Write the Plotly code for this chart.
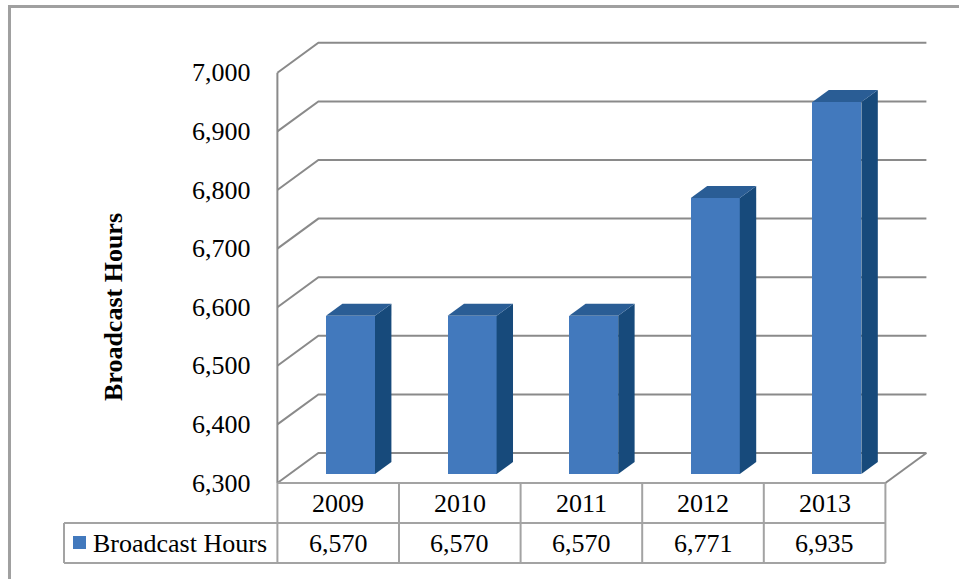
import plotly.graph_objects as go

# ---------------- data ----------------
years = ["2009", "2010", "2011", "2012", "2013"]
hours = [6570, 6570, 6570, 6771, 6935]
series_name = "Broadcast Hours"
tick_values = [6300, 6400, 6500, 6600, 6700, 6800, 6900, 7000]
axis_title = "Broadcast Hours"

# ---------------- layout constants (pixels) ----------------
W, H = 959, 579
X0_PX = 350.5          # centre of first category on the bar front plane
CAT_PX = 121.6         # pixels per category
Y0_PX = 474.0          # pixel row of the axis minimum on the bar front plane
PX_PER_UNIT = 0.586    # pixels per value unit
YMIN, YMAX = tick_values[0], tick_values[-1]
BAR_W = 0.403          # bar width in category units
DEPTH_X = 41 / CAT_PX  # full depth shift, category units
DEPTH_V = 30 / PX_PER_UNIT  # full depth shift, value units
BAR_D0, BAR_D1 = 0.3, 0.7

FRONT = "#4279BD"
SIDE = "#174A7B"
TOP = "#2A5D95"
GRID = "#8a8a8a"
TABLE_LINE = "#a3a3a3"
FONT = "Liberation Serif, Times New Roman, serif"

xr = [(0 - X0_PX) / CAT_PX, (W - X0_PX) / CAT_PX]
yr = [YMIN - (H - Y0_PX) / PX_PER_UNIT, YMIN + Y0_PX / PX_PER_UNIT]


def proj(x, v, d):
    """project (category x, value v, depth d) into the 2D data coordinates"""
    return x + (d - BAR_D0) * DEPTH_X, v + (d - BAR_D0) * DEPTH_V


def path(points, close=False):
    s = "M " + " L ".join(f"{x:.4f},{y:.4f}" for x, y in points)
    return s + (" Z" if close else "")


def px2paper_x(px):
    return px / W


def px2paper_y(py):
    return 1 - py / H


n = len(years)
XL, XR = -0.5, n - 0.5

fig = go.Figure()
fig.add_trace(go.Bar(
    x=list(range(n)), y=[v - YMIN for v in hours], base=[YMIN] * n,
    width=BAR_W, marker=dict(color=FRONT, line=dict(width=0)),
    name=series_name, showlegend=False, hoverinfo="skip"))

shapes = []
# back wall + side wall gridlines
for v in tick_values:
    shapes.append(dict(type="path", xref="x", yref="y", layer="below",
                       path=path([proj(XL, v, 0), proj(XL, v, 1), proj(XR, v, 1)]),
                       line=dict(color=GRID, width=2)))
# left vertical wall edge
shapes.append(dict(type="path", xref="x", yref="y", layer="below",
                   path=path([proj(XL, YMIN, 0), proj(XL, YMAX, 0)]),
                   line=dict(color=GRID, width=2)))
# floor right edge
shapes.append(dict(type="path", xref="x", yref="y", layer="below",
                   path=path([proj(XR, YMIN, 0), proj(XR, YMIN, 1)]),
                   line=dict(color=GRID, width=2)))

# bar side and top faces
for i, v in enumerate(hours):
    xl, xrr = i - BAR_W / 2, i + BAR_W / 2
    shapes.append(dict(type="path", xref="x", yref="y", layer="above",
                       path=path([proj(xrr, YMIN, BAR_D0), proj(xrr, YMIN, BAR_D1),
                                  proj(xrr, v, BAR_D1), proj(xrr, v, BAR_D0)], True),
                       fillcolor=SIDE, line=dict(width=0)))
    shapes.append(dict(type="path", xref="x", yref="y", layer="above",
                       path=path([proj(xl, v, BAR_D0), proj(xrr, v, BAR_D0),
                                  proj(xrr, v, BAR_D1), proj(xl, v, BAR_D1)], True),
                       fillcolor=TOP, line=dict(width=0)))

# ---------------- data table ----------------
col_px = [X0_PX + CAT_PX * proj(k - 0.5, YMIN, 0)[0] for k in range(n + 1)]
row_top = Y0_PX - (proj(0, YMIN, 0)[1] - YMIN) * PX_PER_UNIT
ROW_H = 40
row_mid = row_top + ROW_H
row_bot = row_top + 2 * ROW_H
LEG_LEFT = 64


def hline(x0, x1, y):
    return dict(type="line", xref="paper", yref="paper",
                x0=px2paper_x(x0), x1=px2paper_x(x1),
                y0=px2paper_y(y), y1=px2paper_y(y),
                line=dict(color=TABLE_LINE, width=2))


def vline(x, y0, y1):
    return dict(type="line", xref="paper", yref="paper",
                x0=px2paper_x(x), x1=px2paper_x(x),
                y0=px2paper_y(y0), y1=px2paper_y(y1),
                line=dict(color=TABLE_LINE, width=2))


shapes.append(hline(col_px[0], col_px[-1], row_top))
shapes.append(hline(LEG_LEFT, col_px[-1], row_mid))
shapes.append(hline(LEG_LEFT, col_px[-1], row_bot))
for cx in col_px:
    shapes.append(vline(cx, row_top, row_bot))
shapes.append(vline(LEG_LEFT, row_mid, row_bot))
# legend key
shapes.append(dict(type="rect", xref="paper", yref="paper",
                   x0=px2paper_x(73), x1=px2paper_x(86),
                   y0=px2paper_y(549), y1=px2paper_y(536),
                   fillcolor=FRONT, line=dict(width=0)))
# outer chart border (left and top)
shapes.append(dict(type="path", xref="paper", yref="paper",
                   path=path([(px2paper_x(9.5), 0), (px2paper_x(9.5), px2paper_y(6.5)),
                              (1, px2paper_y(6.5))]),
                   line=dict(color="#a0a0a0", width=3)))

annotations = []
for v in tick_values:
    annotations.append(dict(xref="paper", yref="y", x=px2paper_x(253), y=proj(XL, v, 0)[1],
                            text=f"{v:,}", showarrow=False, xanchor="right", yanchor="middle",
                            font=dict(family=FONT, size=26, color="black")))
annotations.append(dict(xref="paper", yref="paper", x=px2paper_x(113), y=px2paper_y(307),
                        text=f"<b>{axis_title}</b>", showarrow=False, textangle=-90,
                        xanchor="center", yanchor="middle",
                        font=dict(family=FONT, size=26, color="black")))
for k, (yr_lbl, v) in enumerate(zip(years, hours)):
    cx = (col_px[k] + col_px[k + 1]) / 2
    annotations.append(dict(xref="paper", yref="paper", x=px2paper_x(cx),
                            y=px2paper_y(row_top + ROW_H / 2), text=yr_lbl, showarrow=False,
                            xanchor="center", yanchor="middle",
                            font=dict(family=FONT, size=26, color="black")))
    annotations.append(dict(xref="paper", yref="paper", x=px2paper_x(cx),
                            y=px2paper_y(row_mid + ROW_H / 2), text=f"{v:,}", showarrow=False,
                            xanchor="center", yanchor="middle",
                            font=dict(family=FONT, size=26, color="black")))
annotations.append(dict(xref="paper", yref="paper", x=px2paper_x(91),
                        y=px2paper_y(row_mid + ROW_H / 2), text=series_name, showarrow=False,
                        xanchor="left", yanchor="middle",
                        font=dict(family=FONT, size=26, color="black")))

fig.update_layout(
    width=W, height=H, margin=dict(l=0, r=0, t=0, b=0),
    paper_bgcolor="white", plot_bgcolor="white",
    xaxis=dict(range=xr, visible=False, fixedrange=True),
    yaxis=dict(range=yr, visible=False, fixedrange=True),
    shapes=shapes, annotations=annotations, showlegend=False, bargap=0,
)
fig.write_html("out.html", config={"displayModeBar": False},
               post_script="document.body.style.margin='0';document.body.style.overflow='hidden';")
